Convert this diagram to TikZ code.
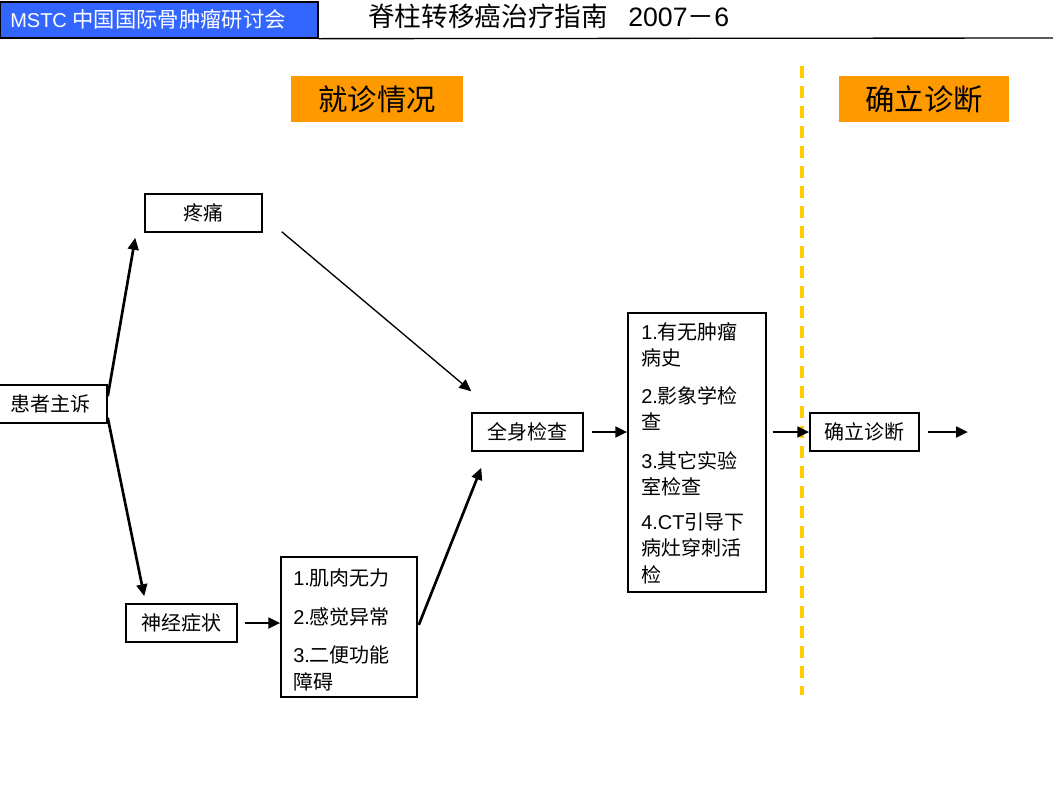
\documentclass[tikz,border=0pt]{standalone}
\usepackage{fontspec}
\setmainfont{Liberation Sans}
\newfontfamily\cjk{Noto Sans CJK SC}
\usetikzlibrary{arrows.meta,calc}
\definecolor{hdrblue}{HTML}{3366FF}
\definecolor{orng}{HTML}{FF9900}
\definecolor{ylw}{HTML}{FFCC00}
\begin{document}
\begin{tikzpicture}[x=0.75pt,y=-0.75pt,
  box/.style={draw, line width=1.1pt, inner sep=0pt, minimum height=28.5pt, font=\cjk\fontsize{15}{17}\selectfont},
  arr/.style={-{Triangle[length=9pt,width=8pt]}, line width=2pt},
  thinarr/.style={-{Triangle[length=9pt,width=8pt]}, line width=1pt},
  item/.style={anchor=base west, inner sep=0pt, font=\fontsize{15}{17}\selectfont},
  tag/.style={fill=orng, inner sep=0pt, minimum height=34.5pt, font=\cjk\fontsize{22}{26}\selectfont}]
\useasboundingbox (0,0) rectangle (1053,793);
% header
\node[minimum width=238.5pt, minimum height=27pt, fill=hdrblue, draw=black, line width=1pt, inner sep=0pt] (hdr) at (159,20) {};
\node[anchor=base west, text=white, inner sep=0pt, font=\fontsize{15}{18}\selectfont] (hdrtxt) at (10,27) {MSTC {\cjk\fontsize{16}{18}\selectfont 中国国际骨肿瘤研讨会}};
\node[anchor=base west, inner sep=0pt, font=\cjk\fontsize{20}{24}\selectfont] (title) at (368,26) {脊柱转移癌治疗指南};
\node[anchor=base west, inner sep=0pt, font=\fontsize{20}{24}\selectfont] (year) at (628,26) {2007{\cjk －}6};
\coordinate (hdrend) at (1053,38);
\draw[line width=1pt] (hdr.south east) -- (hdrend);
% stage tags
\node[tag, minimum width=129pt] (t1) at (377,99) {就诊情况};
\node[tag, minimum width=127.5pt] (t2) at (924,99) {确立诊断};
% divider
\draw[ylw, line width=3pt, dash pattern=on 9pt off 6pt] (802,66) -- (802,695);
% boxes
\node[box, minimum width=84pt] (pat) at (51,404) {患者主诉};
\node[box, minimum width=87.75pt] (pain) at (203.5,213) {疼痛};
\node[box, minimum width=83.25pt] (neuro) at (181.5,623) {神经症状};
\node[box, minimum width=83.25pt] (exam) at (527.5,432) {全身检查};
\node[box, minimum width=81.75pt] (diag) at (864.5,432) {确立诊断};
\node[box, minimum width=102pt, minimum height=105pt] (sym) at (349,627) {};
\node[box, minimum width=103.5pt, minimum height=209.25pt] (chk) at (697,452.5) {};
% list texts
\node[item] (s1) at (293,585) {1.{\cjk 肌肉无力}};
\node[item] (s2) at (293,624) {2.{\cjk 感觉异常}};
\node[item] (s3) at (293,662) {3.{\cjk 二便功能}};
\node[item] (s4) at (293,689) {\cjk 障碍};
\node[item] (c1) at (641,339) {1.{\cjk 有无肿瘤}};
\node[item] (c2) at (641,365) {\cjk 病史};
\node[item] (c3) at (641,403) {2.{\cjk 影象学检}};
\node[item] (c4) at (641,429) {\cjk 查};
\node[item] (c5) at (641,468) {3.{\cjk 其它实验}};
\node[item] (c6) at (641,494) {\cjk 室检查};
\node[item] (c7) at (641,529) {4.CT{\cjk 引导下}};
\node[item] (c8) at (641,555) {\cjk 病灶穿刺活};
\node[item] (c9) at (641,582) {\cjk 检};
% connectors
\draw[arr] ($(pat.north east)+(0,12)$) -- ($(pain.south west)+(-9,5)$);
\draw[arr] ($(pat.south east)+(0,-6)$) -- ($(neuro.north west)+(19,-7)$);
\draw[thinarr] ($(pain.south east)+(19,-1)$) -- ($(exam.north west)+(0,-21)$);
\draw[arr] ($(sym.east)+(1,-2)$) -- ($(exam.south west)+(10,16)$);
\draw[arr] ($(neuro.east)+(7,0)$) -- (sym.west |- neuro.east);
\draw[arr] ($(exam.east)+(8,0)$) -- (chk.west |- exam.east);
\draw[arr] ($(chk.east |- diag.west)+(6,0)$) -- (diag.west);
\coordinate (out) at (968,432);
\draw[arr] ($(diag.east)+(8,0)$) -- (out);
\end{tikzpicture}
\end{document}
